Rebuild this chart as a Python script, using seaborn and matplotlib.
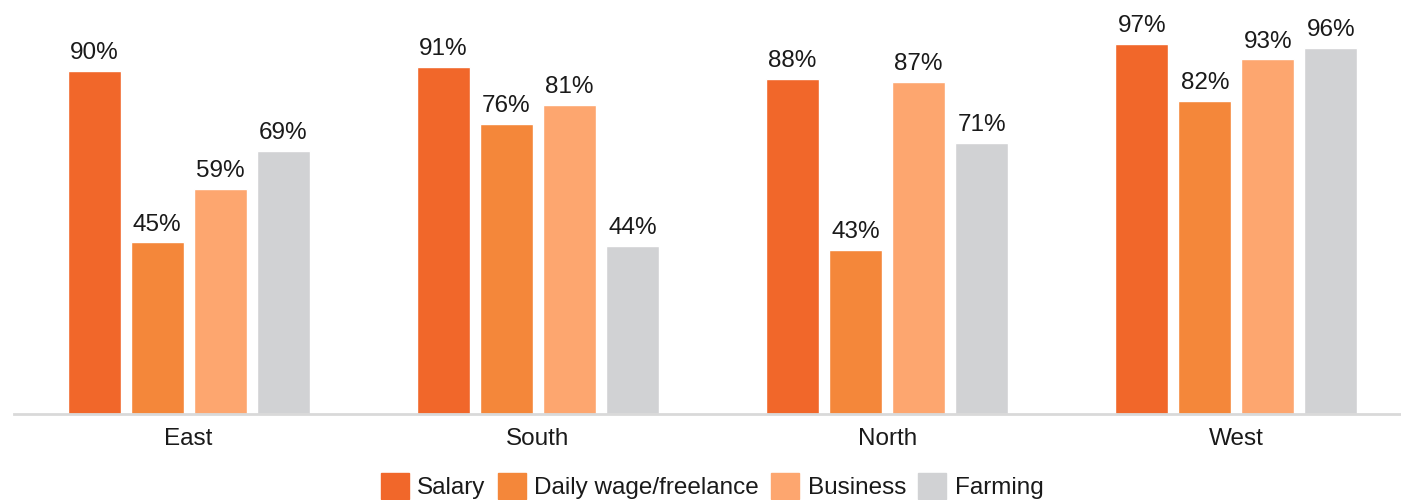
import matplotlib
matplotlib.use("Agg")
import matplotlib.pyplot as plt
import seaborn as sns
import pandas as pd

# Share of respondents by income source and region (%)
regions = ["East", "South", "North", "West"]
sources = ["Salary", "Daily wage/freelance", "Business", "Farming"]
salary = [90, 91, 88, 97]
daily_wage = [45, 76, 43, 82]
business = [59, 81, 87, 93]
farming = [69, 44, 71, 96]

colors = ["#F1672A", "#F4873A", "#FDA66F", "#D1D2D4"]

df = pd.DataFrame({
    "region": regions * 4,
    "source": [s for s in sources for _ in regions],
    "value": salary + daily_wage + business + farming,
})

sns.set_theme(style="white")
plt.rcParams["font.family"] = ["Liberation Sans", "DejaVu Sans"]

fig = plt.figure(figsize=(14.01, 5.0), dpi=100)
ax = fig.add_axes([14 / 1401, 86 / 500, 1397 / 1401, 414 / 500])

sns.barplot(
    data=df, x="region", y="value", hue="source",
    order=regions, hue_order=sources, palette=colors,
    width=0.722, gap=0.16, saturation=1, ax=ax, legend=False,
)

for container in ax.containers:
    ax.bar_label(container, fmt="%g%%", padding=5, fontsize=17.5, color="#1a1a1a")

ax.set_xlim(-0.5, 3.5)
ax.set_ylim(0, 108.6)
ax.set_xlabel("")
ax.set_ylabel("")
ax.set_yticks([])
ax.tick_params(axis="x", length=0, pad=10, labelsize=17.5, labelcolor="#1a1a1a")
for side in ["top", "right", "left"]:
    ax.spines[side].set_visible(False)
ax.spines["bottom"].set_color("#D9D9D9")
ax.spines["bottom"].set_linewidth(2)

handles = [plt.Rectangle((0, 0), 1, 1, color=c) for c in colors]
fig.legend(
    handles, sources, loc="center", bbox_to_anchor=(712 / 1401, 1 - 486 / 500),
    ncol=4, frameon=False, fontsize=17.5, handlelength=1.15, handleheight=1.25,
    handletextpad=0.35, columnspacing=0.5, labelcolor="#1a1a1a",
)

fig.savefig("out.png", dpi=100)
